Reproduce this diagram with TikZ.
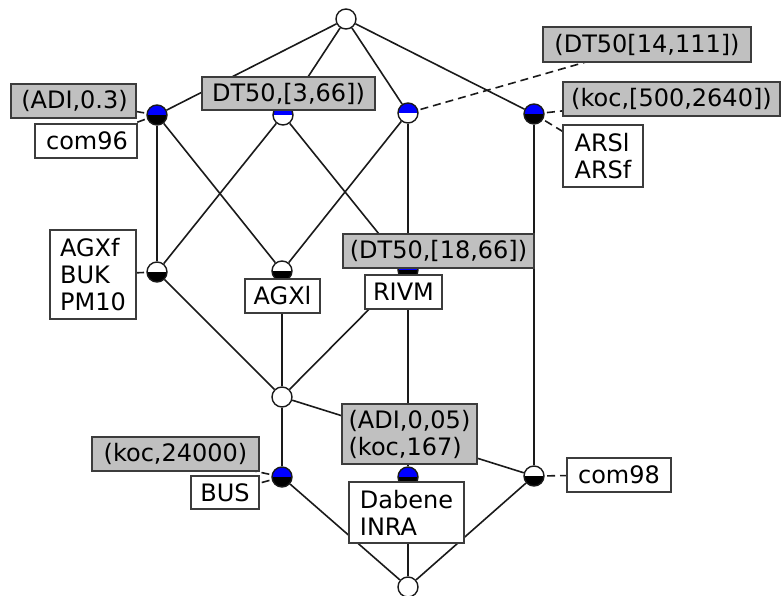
\documentclass[tikz,border=0pt]{standalone}
\usepackage{fontspec}
\setmainfont{DejaVu Sans}
\usetikzlibrary{backgrounds}
\definecolor{boxgray}{HTML}{C0C0C0}
\definecolor{edgecol}{HTML}{1A1A1A}
\tikzset{
  cnode/.style 2 args={circle, draw=edgecol, line width=1.4pt, minimum size=20pt, inner sep=0pt,
    path picture={
      \fill[#1] (path picture bounding box.west) rectangle (path picture bounding box.north east);
      \fill[#2] (path picture bounding box.west) rectangle (path picture bounding box.south east);
    }},
  lbl/.style={draw=edgecol!85, line width=1.3pt, inner sep=0pt, fill=white,
    font=\fontsize{24}{27}\selectfont, align=left},
  glbl/.style={lbl, fill=boxgray},
  edge/.style={draw=edgecol, line width=1.6pt},
  lconn/.style={draw=edgecol, line width=1.6pt, dash pattern=on 8pt off 5pt},
}
\begin{document}
\begin{tikzpicture}[x=1pt,y=-1pt]
\path[use as bounding box] (0,0) rectangle (781,596);
% concept nodes
\node[cnode={white}{white}] (top) at (346,19) {};
\node[cnode={blue}{black}] (n1) at (157,115) {};
\node[cnode={blue}{white}] (n2) at (283,115) {};
\node[cnode={blue}{white}] (n3) at (408,113) {};
\node[cnode={blue}{black}] (n4) at (534,114) {};
\node[cnode={white}{black}] (n5) at (157,272) {};
\node[cnode={white}{black}] (n6) at (282,271) {};
\node[cnode={blue}{black}] (n7) at (408,270) {};
\node[cnode={white}{white}] (n8) at (282,397) {};
\node[cnode={blue}{black}] (n9) at (282,477) {};
\node[cnode={blue}{black}] (n10) at (408,477) {};
\node[cnode={white}{black}] (n11) at (534,476) {};
\node[cnode={white}{white}] (bot) at (408,587) {};
% labels
\node[glbl, minimum width=125pt, minimum height=34pt] (L1) at (73.5,101) {\hspace{2pt}(ADI,0.3)};
\node[lbl, minimum width=102pt, minimum height=34pt] (L2) at (86,141) {\hspace{2pt}com96};
\node[glbl, minimum width=173pt, minimum height=33pt] (L3) at (288.5,93.5) {DT50,[3,66])};
\node[glbl, minimum width=208pt, minimum height=35pt] (L4) at (647,44.5) {(DT50[14,111])};
\node[glbl, minimum width=217pt, minimum height=34pt] (L5) at (671.5,99) {(koc,[500,2640])};
\node[lbl, minimum width=80pt, minimum height=62pt] (L6) at (603,156) {ARSl\\ARSf};
\node[lbl, minimum width=86pt, minimum height=89pt] (L7) at (93,274.5) {AGXf\\BUK\\PM10};
\node[lbl, minimum width=75pt, minimum height=34pt] (L8) at (282.5,296) {AGXl};
\node[glbl, minimum width=191pt, minimum height=34pt] (L9) at (438.5,251) {(DT50,[18,66])};
\node[lbl, minimum width=77pt, minimum height=34pt] (L10) at (403.5,292) {RIVM};
\node[glbl, minimum width=167pt, minimum height=34pt] (L11) at (175.5,454) {(koc,24000)};
\node[lbl, minimum width=68pt, minimum height=33pt] (L12) at (225,492.5) {BUS};
\node[glbl, minimum width=135pt, minimum height=60pt] (L13) at (409.5,434) {(ADI,0,05)\\(koc,167)};
\node[lbl, minimum width=115pt, minimum height=61pt] (L14) at (406.5,512.5) {Dabene\\INRA};
\node[lbl, minimum width=104pt, minimum height=34pt] (L15) at (619,475) {com98};
\begin{pgfonlayer}{background}
% lattice edges
\draw[edge] (top) -- (n1);
\draw[edge] (top) -- (n2);
\draw[edge] (top) -- (n3);
\draw[edge] (top) -- (n4);
\draw[edge] (n1) -- (n5);
\draw[edge] (n1) -- (n6);
\draw[edge] (n2) -- (n5);
\draw[edge] (n2) -- (n7);
\draw[edge] (n3) -- (n6);
\draw[edge] (n3) -- (n7);
\draw[edge] (n4) -- (n11);
\draw[edge] (n5) -- (n8);
\draw[edge] (n6) -- (n8);
\draw[edge] (n7) -- (n8);
\draw[edge] (n7) -- (n10);
\draw[edge] (n8) -- (n9);
\draw[edge] (n8) -- (n11);
\draw[edge] (n9) -- (bot);
\draw[edge] (n10) -- (bot);
\draw[edge] (n11) -- (bot);
% label connectors
\draw[lconn] (n1.center) -- (L1.center);
\draw[lconn] (n1.center) -- (L2.center);
\draw[lconn] (n2.center) -- (L3.center);
\draw[lconn] (n3.center) -- (L4.center);
\draw[lconn] (n4.center) -- (L5.center);
\draw[lconn] (n4.center) -- (L6.center);
\draw[lconn] (n5.center) -- (L7.center);
\draw[lconn] (n6.center) -- (L8.center);
\draw[lconn] (n7.center) -- (L9.center);
\draw[lconn] (n7.center) -- (L10.center);
\draw[lconn] (n9.center) -- (L11.center);
\draw[lconn] (n9.center) -- (L12.center);
\draw[lconn] (n10.center) -- (L13.center);
\draw[lconn] (n10.center) -- (L14.center);
\draw[lconn] (n11.center) -- (L15.center);
\end{pgfonlayer}
\end{tikzpicture}
\end{document}
